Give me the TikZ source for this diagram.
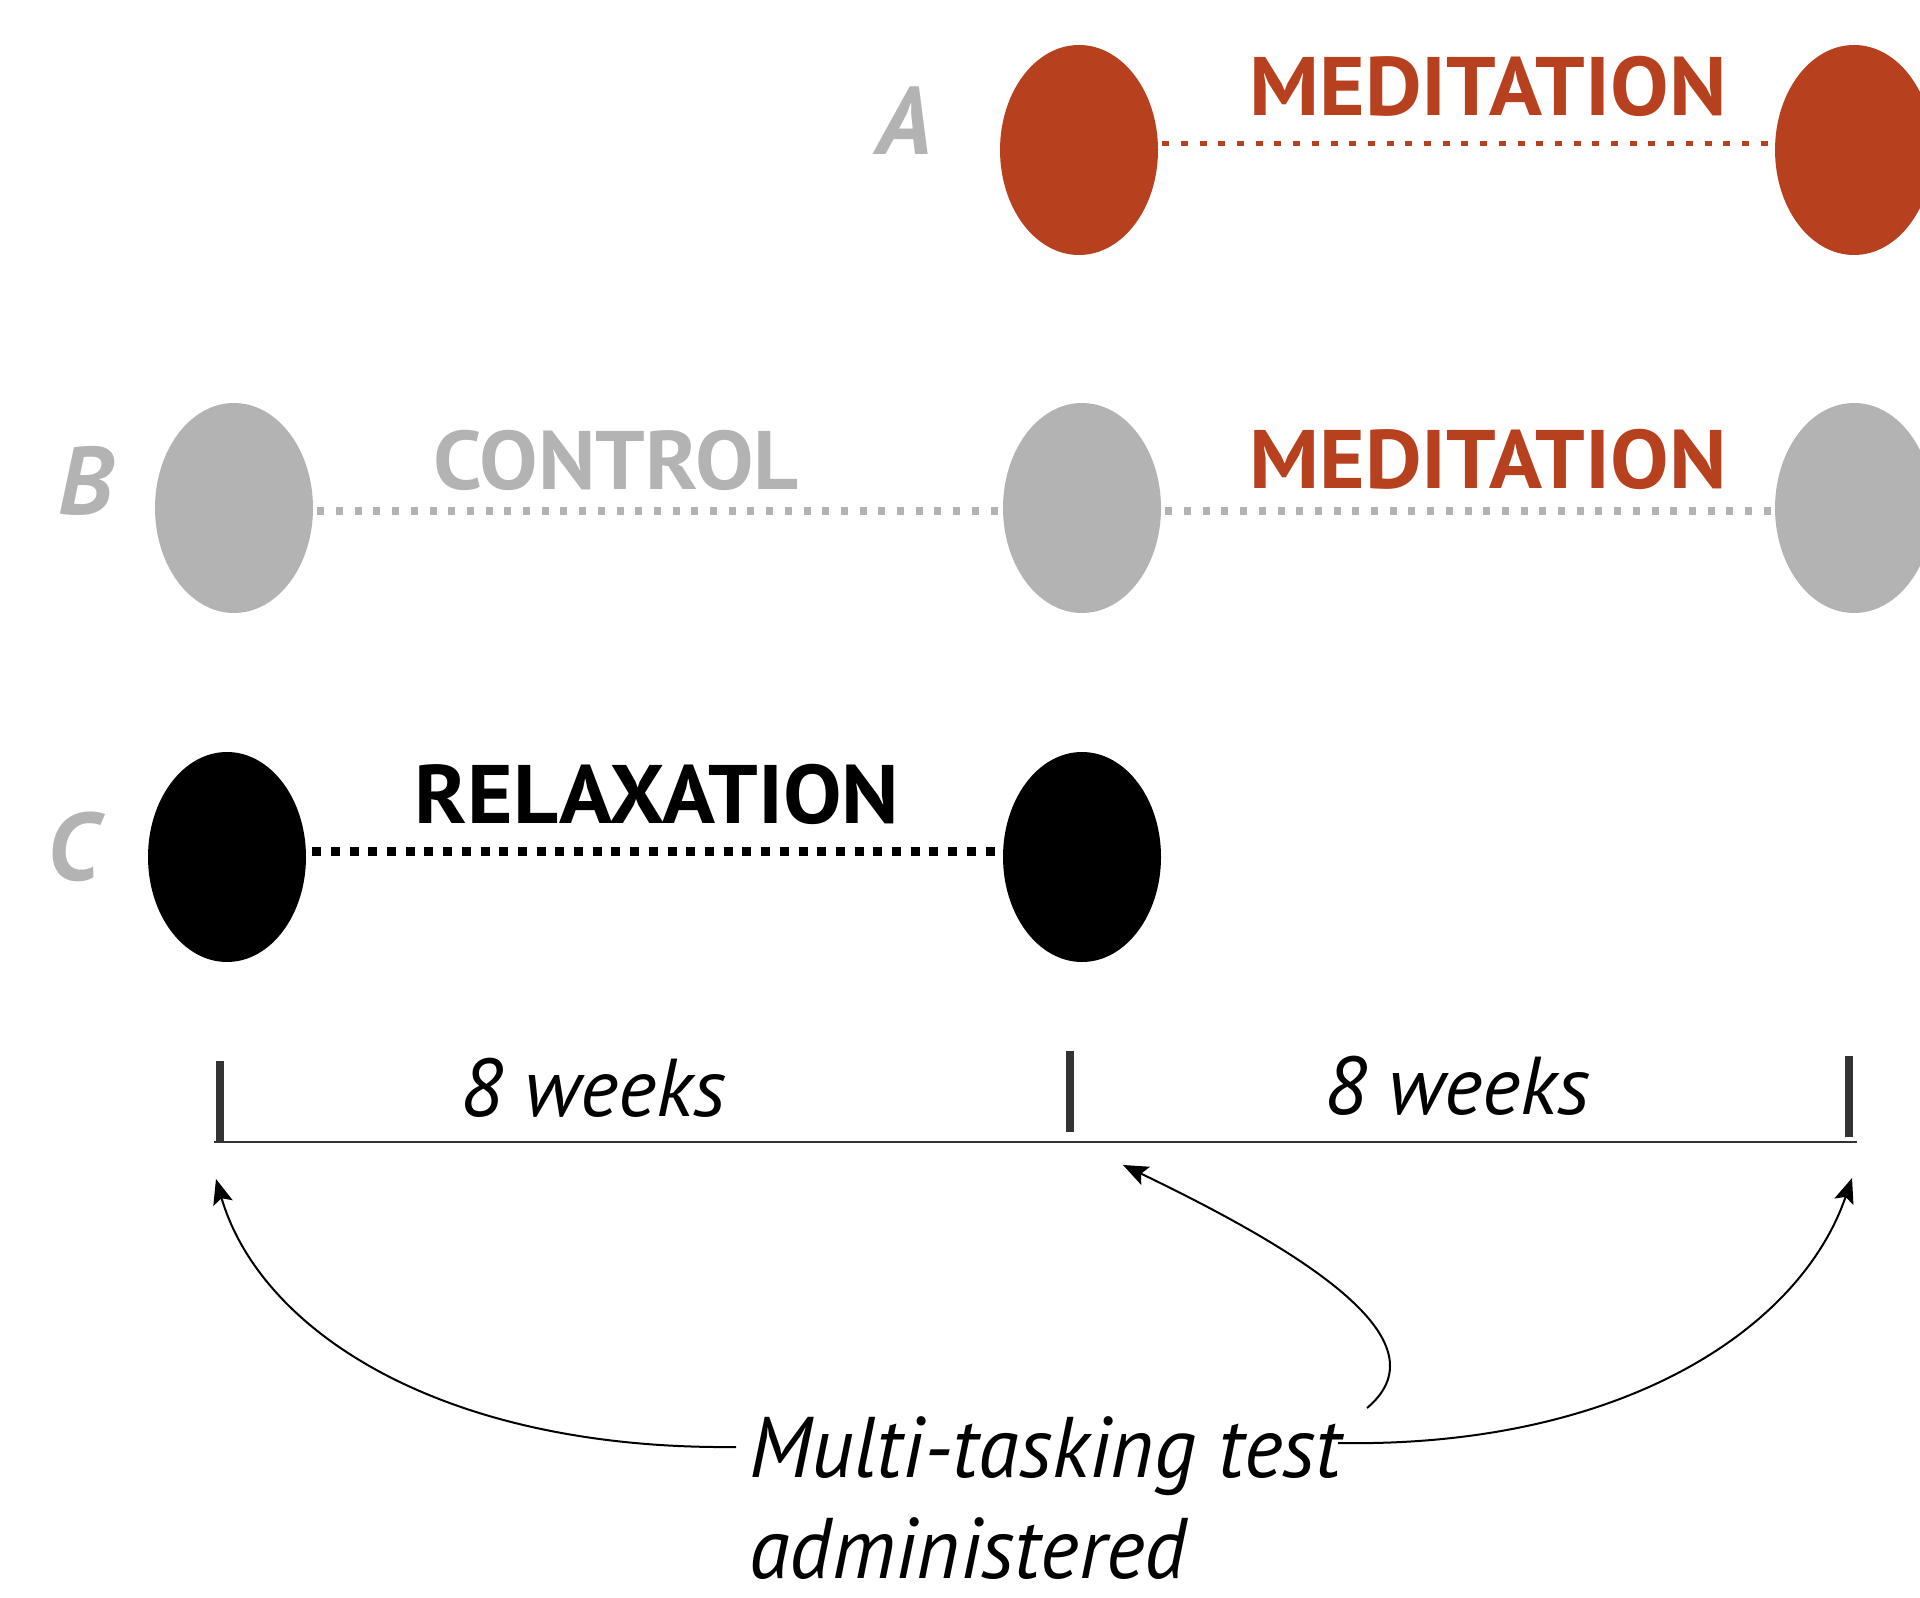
\documentclass[tikz,border=0pt]{standalone}
\usepackage{fontspec}
\setmainfont{PT Sans}
\newfontfamily\armfont[FakeStretch=1.055]{PT Sans}
\newfontfamily\testfont[FakeStretch=0.965]{PT Sans}
\usetikzlibrary{shapes.geometric,arrows.meta}
\definecolor{medred}{HTML}{B7411E}
\definecolor{lgray}{HTML}{B3B3B3}
\definecolor{dgray}{HTML}{333333}
\tikzset{
  blob/.style={ellipse, minimum width=79pt, minimum height=105pt, inner sep=0pt, draw=none},
  grouplabel/.style={font=\fontsize{48}{48}\selectfont\bfseries\itshape, text=lgray, anchor=base, inner sep=0pt},
  armlabel/.style={font=\fontsize{41.5}{41.5}\selectfont\armfont\bfseries, anchor=base, inner sep=0pt},
  weekslbl/.style={font=\fontsize{41}{41}\selectfont\itshape, anchor=base, inner sep=0pt},
  testlbl/.style={font=\fontsize{43}{43}\selectfont\testfont\itshape, anchor=base west, inner sep=0pt},
  dotsred/.style={draw=medred, line width=2.5pt, dash pattern=on 3.5pt off 5.85pt, shorten <=2pt, shorten >=2pt},
  dotsgray/.style={draw=lgray, line width=3.8pt, dash pattern=on 3.5pt off 5.85pt, shorten <=2pt, shorten >=2pt},
  dotsblack/.style={draw=black, line width=4.5pt, dash pattern=on 4.5pt off 4.85pt, shorten <=3pt, shorten >=3pt},
  tickmark/.style={draw=dgray, line width=4pt},
  arr/.style={draw=black, line width=1pt, -{Stealth[length=12.5pt, width=10pt, inset=2.5pt]}}
}
\begin{document}
\begin{tikzpicture}[x=0.5pt,y=-0.5pt]
\useasboundingbox (0,0) rectangle (1920,1598);
\clip (0,0) rectangle (1920,1598);
% row A
\node[grouplabel] (la) at (904,155) {A};
\node[blob, fill=medred] (a1) at (1079,150) {};
\node[blob, fill=medred] (a2) at (1854,150) {};
\node[armlabel, text=medred] (ma) at (1488,116) {MEDITATION};
\draw[dotsred] (a1.5) -- (a2.175);
% row B
\node[grouplabel] (lb) at (86,515) {B};
\node[blob, fill=lgray] (b1) at (234,508) {};
\node[blob, fill=lgray] (b2) at (1082,508) {};
\node[blob, fill=lgray] (b3) at (1854,508) {};
\node[armlabel, text=lgray] (cb) at (616,490) {CONTROL};
\node[armlabel, text=medred] (mb) at (1488,489) {MEDITATION};
\draw[dotsgray] (b1.-2) -- (b2.-178);
\draw[dotsgray] (b2.-2) -- (b3.-178);
% row C
\node[grouplabel] (lc) at (73,880) {C};
\node[blob, fill=black] (c1) at (227,857) {};
\node[blob, fill=black] (c2) at (1082,857) {};
\node[armlabel, text=black] (rc) at (657,823) {RELAXATION};
\draw[dotsblack] (c1.4) -- (c2.176);
% timeline
\draw[draw=dgray, line width=1.2pt] (214,1142) -- (1857,1142);
\draw[tickmark] (220,1061) -- (220,1143);
\draw[tickmark] (1070,1051) -- (1070,1132);
\draw[tickmark] (1849,1056) -- (1849,1137);
\node[weekslbl] (w1) at (593,1116) {8 weeks};
\node[weekslbl] (w2) at (1457,1114) {8 weeks};
% test label and arrows
\node[testlbl] (mt) at (749,1477) {Multi-tasking test};
\node[testlbl] (adm) at (749,1578) {administered};
\coordinate (s1) at (736,1447);
\coordinate (s2) at (1338,1443);
\coordinate (s3) at (1367,1408);
\coordinate (h1) at (216,1179);
\coordinate (h2) at (1123,1165);
\coordinate (h3) at (1852,1178);
\draw[arr] (s1) .. controls (440,1450) and (260,1330) .. (h1);
\draw[arr] (s2) .. controls (1620,1448) and (1800,1330) .. (h3);
\draw[arr] (s3) .. controls (1442,1345) and (1325,1262) .. (h2);
\end{tikzpicture}
\end{document}
